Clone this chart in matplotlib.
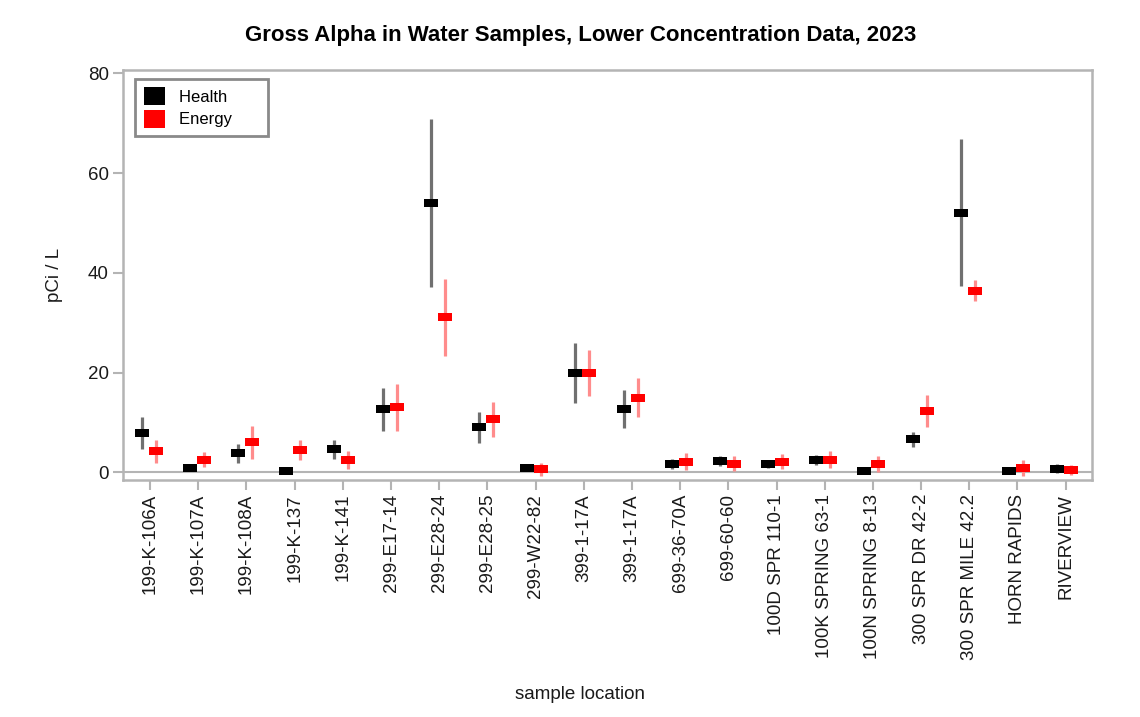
"""
Gross Alpha in Water Samples, Lower Concentration Data, 2023
Health vs Energy measurements with +/- uncertainty (pCi/L).
"""
import matplotlib
matplotlib.use("Agg")
import matplotlib.pyplot as plt
import numpy as np
from matplotlib.path import Path
from matplotlib.patches import Patch

LOCATIONS = [
    "199-K-106A", "199-K-107A", "199-K-108A", "199-K-137", "199-K-141",
    "299-E17-14", "299-E28-24", "299-E28-25", "299-W22-82", "399-1-17A",
    "399-1-17A", "699-36-70A", "699-60-60", "100D SPR 110-1",
    "100K SPRING 63-1", "100N SPRING 8-13", "300 SPR DR 42-2",
    "300 SPR MILE 42.2", "HORN RAPIDS", "RIVERVIEW",
]

# result and uncertainty, pCi/L
HEALTH = [7.8, 0.9, 3.8, 0.2, 4.6, 12.6, 54.0, 9.0, 0.9, 19.9,
          12.7, 1.7, 2.2, 1.7, 2.5, 0.2, 6.6, 52.1, 0.2, 0.7]
HEALTH_ERR = [3.2, 0.5, 1.9, 0.5, 1.9, 4.4, 16.8, 3.1, 0.5, 6.1,
              3.9, 1.0, 1.0, 0.8, 1.0, 0.5, 1.5, 14.7, 0.5, 0.9]
ENERGY = [4.2, 2.5, 6.0, 4.4, 2.5, 13.0, 31.1, 10.6, 0.6, 20.0,
          15.0, 2.1, 1.7, 2.1, 2.5, 1.7, 12.3, 36.4, 0.9, 0.5]
ENERGY_ERR = [2.3, 1.5, 3.3, 2.0, 1.8, 4.7, 7.7, 3.5, 1.3, 4.6,
              3.9, 1.7, 1.5, 1.5, 1.7, 1.6, 3.3, 2.1, 1.6, 1.0]

GRID_GRAY = "#b4b4b4"

# wide flat rectangle marker
RECT = Path([(-1, -0.5), (1, -0.5), (1, 0.5), (-1, 0.5), (-1, -0.5)],
            [Path.MOVETO, Path.LINETO, Path.LINETO, Path.LINETO, Path.CLOSEPOLY])

plt.rcParams["font.family"] = ["Liberation Sans", "DejaVu Sans"]

x = np.arange(len(LOCATIONS))
h = np.array(HEALTH)
he = np.array(HEALTH_ERR)
e = np.array(ENERGY)
ee = np.array(ENERGY_ERR)

fig = plt.figure(figsize=(11.4, 7.17), dpi=100)
ax = fig.add_axes([0.1076, 0.3305, 0.85, 0.572])

ax.axhline(0, color=GRID_GRAY, lw=1.5, zorder=1)

xh = x - 0.175
xe = x + 0.115
ax.vlines(xh, h - he, h + he, color="#707070", lw=2.3, zorder=2)
ax.vlines(xe, e - ee, e + ee, color="#ff8c8c", lw=2.3, zorder=2)
ax.plot(xh, h, ls="none", marker=RECT, ms=10.5, color="black", mew=0, zorder=3)
ax.plot(xe, e, ls="none", marker=RECT, ms=10.5, color="red", mew=0, zorder=3)

ax.set_xlim(-0.57, 19.54)
ax.set_ylim(-1.55, 80.7)
ax.set_yticks([0, 20, 40, 60, 80])
ax.set_xticks(x)
ax.set_xticklabels(LOCATIONS, rotation=90)

for side in ["left", "bottom", "right", "top"]:
    ax.spines[side].set_color(GRID_GRAY)
    ax.spines[side].set_linewidth(1.8)
ax.tick_params(axis="both", colors=GRID_GRAY, length=7, width=1.5,
               labelcolor="#1a1a1a", labelsize=13.5)
ax.tick_params(axis="x", pad=3)
ax.tick_params(axis="y", pad=3)

ax.set_ylabel("pCi / L", fontsize=13.5, labelpad=18, color="#1a1a1a")
fig.text(0.509, 0.032, "sample location", ha="center", va="center",
         fontsize=13.5, color="#1a1a1a")
fig.text(0.509, 0.951, "Gross Alpha in Water Samples, Lower Concentration Data, 2023",
         ha="center", va="center", fontsize=16, fontweight="bold")

handles = [Patch(facecolor="black", edgecolor="none", label="Health      "),
           Patch(facecolor="red", edgecolor="none", label="Energy      ")]
leg = ax.legend(handles=handles, loc="upper left", bbox_to_anchor=(0.013, 0.978),
                borderaxespad=0, fontsize=12, handlelength=1.3, handleheight=1.3,
                handletextpad=0.8, labelspacing=0.25, fancybox=False,
                borderpad=0.5, framealpha=1)
leg.get_frame().set_edgecolor("#8a8a8a")
leg.get_frame().set_linewidth(2)

fig.savefig("out.png", dpi=100)
